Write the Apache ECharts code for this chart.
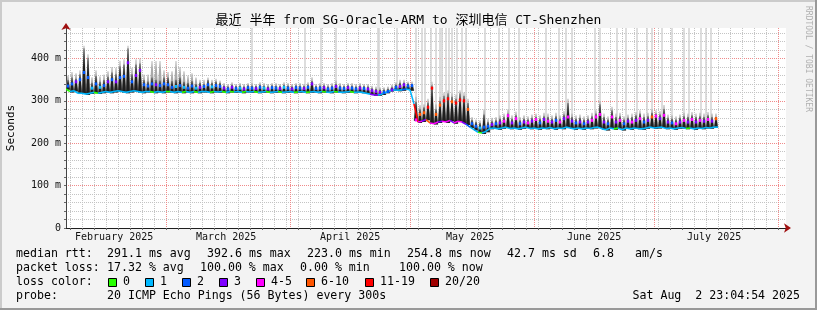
<!DOCTYPE html>
<html><head><meta charset="utf-8">
<script src="https://cdn.jsdelivr.net/npm/echarts@6/dist/echarts.min.js"></script>
<style>html,body{margin:0;padding:0;background:#f3f3f3}#c{width:817px;height:310px}</style>
</head><body><div id="c"></div>
<script>
const MONO = "'DejaVu Sans Mono','Noto Sans CJK SC',monospace";
const DAY = 86400000;
const startTime = Date.UTC(2025, 1, 3, 23, 4, 54);
const endTime = Date.UTC(2025, 7, 2, 23, 4, 54);
const yMax = 472;

const titleText = '最近 半年 from SG-Oracle-ARM to 深圳电信 CT-Shenzhen';
const monthNames = ['January','February','March','April','May','June','July','August'];

// median rtt (ms): baseline at start of each day
const median1 = [
328,322,324,318,318,316,318,320,318,320,
322,320,322,324,322,320,322,324,322,320,
322,322,320,322,320,322,322,320,322,320,
322,320,322,320,322,322,320,322,321,322,
320,322,321,322,320,322,321,322,320,321,
322,320,321,322,320,321,322,320,321,322,
320,321,322,320,322,321,320,322,321,320,
321,322,320,321,320,318,316,314,314,316,
320,324,326,325,326,328,326,293,250,252,
256,248,246,250,252,250,254,248,252,250,
245,238,232,226,224,228,235,236,234,236,
238,235,236,234,236,238,235,236,234,236,
235,237,234,236,235,238,236,234,236,234,
236,235,237,238,234,232,236,234,236,232,
236,234,236,235,234,236,238,236,237,238,
235,236,234,236,237,235,236,234,236,235,
237,236,238];
// median rtt (ms): daily peak
const median2 = [
335,340,345,350,367,355,330,340,332,336,
345,350,345,355,358,390,345,360,372,338,
335,340,338,336,340,338,332,334,336,332,
330,335,330,332,334,338,333,336,334,330,
328,332,329,330,328,331,330,329,332,330,
328,331,330,329,332,330,328,331,330,329,
332,340,329,330,331,328,330,334,330,329,
331,330,328,330,329,328,324,322,320,320,
322,326,332,334,338,335,336,255,268,272,
285,330,268,290,300,305,298,295,302,300,
280,246,240,236,238,240,244,246,248,252,
265,248,258,246,250,248,252,256,248,256,
252,250,254,250,258,262,252,248,250,246,
250,254,262,268,250,246,262,250,254,246,
252,250,254,258,250,254,262,264,258,266,
250,248,246,250,254,250,256,250,254,252,
256,252,258];
// top of dense (dark) smoke per day (ms)
const smokeDark = [
349,355,352,363,424,402,343,359,345,349,
357,367,363,382,386,424,363,386,388,349,
346,355,350,348,355,355,347,350,355,345,
343,347,340,343,340,349,343,346,343,336,
334,338,335,336,334,337,336,335,338,336,
334,337,336,335,338,336,334,337,336,335,
338,347,335,336,337,334,336,340,336,335,
337,336,334,336,335,334,330,328,326,326,
328,332,338,343,343,341,340,298,280,285,
296,337,280,300,312,318,310,305,318,312,
295,255,250,248,268,250,252,254,258,262,
270,258,266,254,258,256,260,262,258,264,
262,258,264,258,268,295,262,258,260,256,
258,264,270,292,262,256,278,262,264,256,
260,262,266,270,262,264,272,270,268,281,
260,258,256,260,264,262,266,262,264,262,
266,262,262];
// top of light smoke per day (ms)
const smokeLight = [
360,368,365,372,430,410,356,372,358,362,
370,380,378,395,398,430,378,398,400,362,
362,394,394,394,372,368,370,394,380,370,
360,365,355,350,350,355,350,352,348,342,
340,344,340,342,340,342,342,340,344,342,
340,342,342,340,344,342,340,342,342,340,
344,356,340,342,342,340,342,348,342,340,
342,342,340,342,340,340,336,334,332,332,
334,338,344,350,350,346,346,310,290,292,
305,345,292,310,320,325,318,315,325,320,
305,262,256,254,280,258,260,262,266,270,
280,266,275,262,266,264,268,270,266,272,
270,266,272,266,276,305,270,266,268,264,
266,272,278,300,270,264,286,270,272,264,
268,270,274,278,270,272,280,278,276,290,
268,266,264,268,272,270,274,270,272,270,
274,270,270];
// loss class index (0..7) of the baseline and of the daily peak
const loss1 = [
0,1,1,1,1,1,1,0,1,1, 1,1,1,1,1,1,1,1,1,1, 1,0,1,1,1,0,1,1,1,0, 1,1,0,1,1,1,0,1,1,0,
1,0,1,1,0,1,1,0,1,1, 0,1,1,0,1,1,1,0,1,1, 0,1,1,1,0,1,1,0,1,1, 1,0,1,1,1,1,3,3,1,1,
1,1,1,1,2,1,1,6,4,3, 5,4,4,3,4,4,3,4,4,3, 2,1,1,0,1,1,1,1,1,1, 1,1,1,1,1,1,1,1,1,1,
1,1,1,1,1,1,1,1,1,1, 1,1,1,1,1,1,1,0,1,1, 1,1,1,1,1,1,1,1,1,1, 1,1,1,1,1,0,1,1,1,1,
1,1,1];
const loss2 = [
2,2,3,2,2,2,1,2,1,2, 3,2,3,2,2,3,2,3,3,2, 2,2,3,2,2,2,2,1,2,1, 2,2,1,3,2,2,1,2,2,3,
2,3,2,1,3,2,2,3,2,1, 3,2,2,3,1,2,3,2,2,3, 2,3,2,2,3,2,2,3,2,2, 3,2,2,3,2,3,3,3,3,2,
2,3,2,3,3,2,2,4,5,5, 6,6,5,5,6,6,5,6,6,6, 5,2,2,1,2,2,3,2,3,4, 4,3,4,2,3,4,3,4,2,3,
4,3,2,4,3,4,3,2,3,2, 3,4,4,4,3,2,4,3,4,2, 3,4,3,4,2,3,5,4,3,4, 3,2,4,3,4,3,4,3,4,3,
4,3,5];
// outlier pings reaching the top of the graph (day offsets from start)
const spikeDays = [46.5,59.75,63.75,67.5,78,78.25,82.75,87.5,89,89.75,91.25,92.5,93.5,94,95,95.75,96.5,97.75,99,100,
104.75,108.25,110.75,113.25,120,123.25,125,126.5,132.25,133.5,137.75,140,142.75,145.25,146.5,149,151.5,154.5,155.75,158.75,160,161.25];

const lossColors = ['#26ff00','#00b8ff','#0059ff','#7e00ff','#ff00ff','#ff5500','#ff0000','#a00000'];
const lossLabels = ['0','1','2','3','4-5','6-10','11-19','20/20'];

const statRows = [
  {y: 254, items: [[16,'median rtt:'],[107,'291.1 ms avg'],[207,'392.6 ms max'],[307,'223.0 ms min'],[407,'254.8 ms now'],[507,'42.7 ms sd'],[593,'6.8'],[635,'am/s']]},
  {y: 268, items: [[16,'packet loss:'],[107,'17.32 % avg'],[200,'100.00 % max'],[300,'0.00 % min'],[399,'100.00 % now']]},
  {y: 282, items: [[16,'loss color:']]},
  {y: 296, items: [[16,'probe:'],[107,'20 ICMP Echo Pings (56 Bytes) every 300s']]}
];
const swatchX = [108.5,145.5,182.5,219.5,256.5,306.5,365.5,430.5];
const swatchLabelX = [123,160,197,234,271,321,380,445];
const dateText = 'Sat Aug  2 23:04:54 2025';

// ---- build ----
const dayData = median1.map((v, i) => [startTime + i * DAY, v, median2[i], smokeDark[i], smokeLight[i], loss1[i], loss2[i]]);
const spikeData = spikeDays.map(d => {
  const i = Math.floor(d);
  return [startTime + d * DAY, Math.min(median1[i], median2[i])];
});

const monthStarts = [];
const labelTimes = [];
for (let m = 1; m <= 7; m++) {
  const t = Date.UTC(2025, m, 1);
  if (t >= startTime && t <= endTime) monthStarts.push(t);
  labelTimes.push(Date.UTC(2025, m, 16));
}
const minorTicks = [];
const anchor = Date.UTC(2025, 2, 1);
for (let t = anchor; t >= startTime; t -= 3 * DAY) minorTicks.unshift(t);
for (let t = anchor + 3 * DAY; t <= endTime; t += 3 * DAY) minorTicks.push(t);

function smokeItem(topIdx, xs, fill) {
  return function (params, api) {
    const i = params.dataIndex;
    const t = api.value(0);
    const base = Math.min(median1[i], median2[i]) - 2;
    const top = api.value(topIdx);
    const pts = [[t + xs[0] * DAY, base], [t + xs[1] * DAY, top], [t + xs[2] * DAY, top], [t + xs[3] * DAY, base]].map(p => api.coord(p));
    return {type: 'polygon', shape: {points: pts}, style: {fill: fill, stroke: 'none'}};
  };
}
function medianItem(params, api) {
  const i = params.dataIndex;
  const t = api.value(0);
  const m1 = api.value(1), m2 = api.value(2);
  const next = i + 1 < median1.length ? median1[i + 1] : m1;
  const a = api.coord([t, m1]), c = api.coord([t + DAY, next]), b = api.coord([t + DAY / 2, m2]);
  return {type: 'group', children: [
    {type: 'polyline', shape: {points: [a, c]}, style: {stroke: lossColors[api.value(5)], lineWidth: 1.6, fill: 'none'}},
    {type: 'rect', shape: {x: b[0] - 1.2, y: b[1] - 1.5, width: 2.4, height: 3}, style: {fill: lossColors[api.value(6)], stroke: 'none'}}
  ]};
}
function spikeItem(params, api) {
  const t = api.value(0);
  const p0 = api.coord([t, yMax]), p1 = api.coord([t, api.value(1)]);
  return {type: 'rect', shape: {x: p0[0] - 0.75, y: p0[1], width: 1.5, height: p1[1] - p0[1]}, style: {fill: '#d2d2d2', stroke: 'none'}};
}

const graphics = [
  {type: 'rect', shape: {x: 0, y: 0, width: 817, height: 2}, style: {fill: '#cbcbcb'}},
  {type: 'rect', shape: {x: 0, y: 0, width: 2, height: 310}, style: {fill: '#cbcbcb'}},
  {type: 'rect', shape: {x: 0, y: 308, width: 817, height: 2}, style: {fill: '#999999'}},
  {type: 'rect', shape: {x: 815, y: 0, width: 2, height: 310}, style: {fill: '#999999'}},
  {type: 'text', x: 808, y: 59, rotation: -Math.PI / 2,
   style: {text: 'RRDTOOL / TOBI OETIKER', fontFamily: MONO, fontSize: 8, fill: '#b0b0b0', align: 'center', verticalAlign: 'middle'}}
];
statRows.forEach(row => row.items.forEach(([x, s]) => graphics.push({
  type: 'text', x: x, y: row.y, style: {text: s, fontFamily: MONO, fontSize: 11.6, fill: '#000', align: 'left', verticalAlign: 'middle'}
})));
lossLabels.forEach((lab, k) => {
  graphics.push({type: 'rect', shape: {x: swatchX[k], y: 278.5, width: 8, height: 8}, style: {fill: lossColors[k], stroke: '#000', lineWidth: 1}});
  graphics.push({type: 'text', x: swatchLabelX[k], y: 282, style: {text: lab, fontFamily: MONO, fontSize: 11.6, fill: '#000', align: 'left', verticalAlign: 'middle'}});
});
graphics.push({type: 'text', x: 800, y: 296, style: {text: dateText, fontFamily: MONO, fontSize: 11.6, fill: '#000', align: 'right', verticalAlign: 'middle'}});

const chart = echarts.init(document.getElementById('c'), null, {renderer: 'canvas'});
chart.setOption({
  animation: false,
  backgroundColor: '#f3f3f3',
  title: {text: titleText, left: 'center', top: 14, padding: 0,
    textStyle: {fontFamily: MONO, fontSize: 13, fontWeight: 'normal', color: '#000'}},
  grid: {left: 66, top: 28, width: 720, height: 200, show: true, backgroundColor: '#ffffff', borderWidth: 0,
    containLabel: false, outerBoundsMode: 'none'},
  xAxis: [
    {type: 'value', min: startTime, max: endTime, position: 'bottom', scale: true,
     axisLine: {show: true, onZero: false, lineStyle: {color: '#1f1f1f', width: 1}},
     axisTick: {show: true, length: 2, customValues: minorTicks, lineStyle: {color: '#666'}},
     axisLabel: {customValues: labelTimes, fontFamily: MONO, fontSize: 10, color: '#111', margin: 4, hideOverlap: false,
       formatter: v => monthNames[new Date(v).getUTCMonth()] + ' ' + new Date(v).getUTCFullYear()},
     splitLine: {show: true, lineStyle: {color: '#c4c4c4', width: 1, type: [1, 1]}}},
    {type: 'value', min: startTime, max: endTime, position: 'bottom', scale: true,
     axisLine: {show: true, onZero: false, symbol: ['none', 'arrow'], symbolSize: [7, 7], symbolOffset: [0, 5], lineStyle: {color: '#a01010', width: 0}},
     axisTick: {show: false, customValues: monthStarts},
     axisLabel: {show: false},
     splitLine: {show: true, lineStyle: {color: '#f08a8a', width: 1, type: [1, 1]}}}
  ],
  yAxis: [
    {type: 'value', min: 0, max: yMax, interval: 20, position: 'left',
     name: 'Seconds', nameLocation: 'middle', nameGap: 49, nameRotate: 90,
     nameTextStyle: {fontFamily: MONO, fontSize: 11, color: '#000'},
     axisLine: {show: true, onZero: false, lineStyle: {color: '#444'}},
     axisTick: {show: true, length: 2, lineStyle: {color: '#666'}},
     axisLabel: {fontFamily: MONO, fontSize: 10, color: '#111', margin: 5, showMaxLabel: false,
       formatter: v => (v % 100 === 0 ? (v === 0 ? '0' : v + ' m') : '')},
     splitLine: {show: true, showMinLine: false, showMaxLine: false, lineStyle: {color: '#c4c4c4', width: 1, type: [1, 1]}}},
    {type: 'value', min: 0, max: yMax, interval: 100, position: 'left',
     axisLine: {show: true, onZero: false, symbol: ['none', 'arrow'], symbolSize: [7, 7], symbolOffset: [0, 5], lineStyle: {color: '#a01010', width: 0}},
     axisTick: {show: false}, axisLabel: {show: false},
     splitLine: {show: true, showMinLine: false, showMaxLine: false, lineStyle: {color: '#f08a8a', width: 1, type: [1, 1]}}}
  ],
  series: [
    {type: 'custom', name: 'outliers', xAxisIndex: 0, yAxisIndex: 0, clip: true, silent: true, z: 2,
     encode: {x: 0, y: 1}, data: spikeData, renderItem: spikeItem},
    {type: 'custom', name: 'smoke light', xAxisIndex: 0, yAxisIndex: 0, clip: true, silent: true, z: 3,
     encode: {x: 0, y: 4}, data: dayData, renderItem: smokeItem(4, [-0.1, 0.4, 0.6, 1.1], '#a9a9a9')},
    {type: 'custom', name: 'smoke dark', xAxisIndex: 0, yAxisIndex: 0, clip: true, silent: true, z: 4,
     encode: {x: 0, y: 3}, data: dayData, renderItem: smokeItem(3, [0, 0.43, 0.57, 1], '#1e1e1e')},
    {type: 'custom', name: 'median', xAxisIndex: 0, yAxisIndex: 0, clip: true, silent: true, z: 5,
     encode: {x: 0, y: 1}, data: dayData, renderItem: medianItem}
  ],
  graphic: graphics
});
</script>
</body></html>
